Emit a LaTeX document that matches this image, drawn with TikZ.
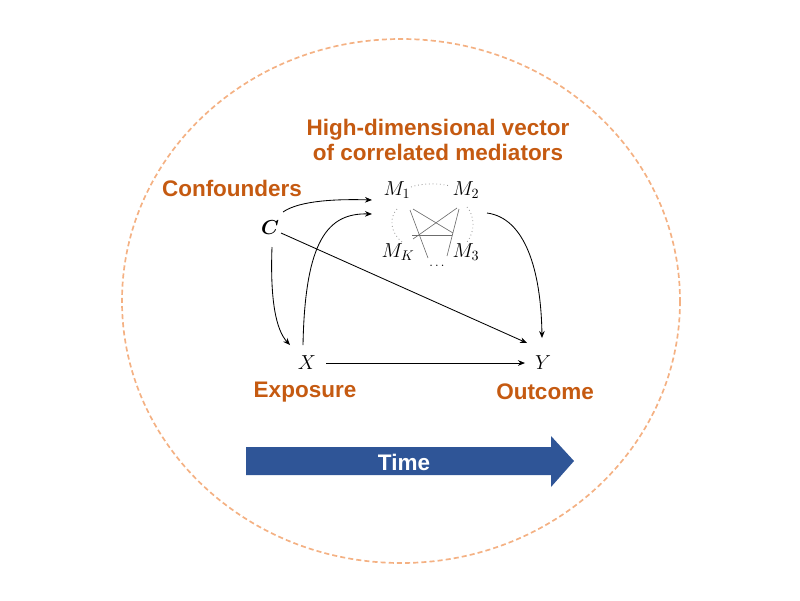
\documentclass[tikz,border=0pt]{standalone}
\usepackage{fontspec}
\setsansfont{Liberation Sans}
\usepackage{amsmath}
\usetikzlibrary{calc,arrows.meta}
\definecolor{orng}{HTML}{C55A11}
\definecolor{lorng}{HTML}{F4B183}
\definecolor{tblue}{HTML}{2F5597}
\begin{document}
\begin{tikzpicture}[x=0.025cm,y=-0.025cm,
 lab/.style={font=\sffamily\bfseries\fontsize{16}{18}\selectfont, text=orng, inner sep=0pt},
 var/.style={font=\fontsize{14.5}{16}\selectfont, inner sep=1pt},
 arr/.style={-{Stealth[length=5pt,width=4pt]}, line width=0.6pt},
 medl/.style={gray!85!black, line width=0.45pt},
 medd/.style={gray!80, line width=0.6pt, dotted}]
\useasboundingbox (0,0) rectangle (800,600);
\draw[lorng, dash pattern=on 3.6pt off 2.2pt, line width=1.2pt] (401,301) ellipse [x radius=279, y radius=262];
% labels
\node[lab, align=center] (title) at (438,140) {High-dimensional vector\\of correlated mediators};
\node[lab] (conf) at (232,188) {Confounders};
\node[lab] (expo) at (305,392) {Exposure};
\node[lab] (outc) at (545,392) {Outcome};
% variables
\node[var] (C) at (270,228) {$\boldsymbol{C}$};
\node[var] (M1) at (397,190) {$M_1$};
\node[var] (M2) at (466,190) {$M_2$};
\node[var] (MK) at (398,252) {$M_K$};
\node[var] (M3) at (466,252) {$M_3$};
\node[var, font=\fontsize{9}{10}\selectfont] (dots) at (437,266) {$\ldots$};
\node[var] (X) at (307,363) {$X$};
\node[var] (Y) at (543,363) {$Y$};
% mediator correlations
\draw[medd] ($(M1)+(14,-3)$) .. controls (422,183) and (440,183) .. ($(M2)+(-16,-4)$);
\draw[medd] ($(M1)+(0,19)$) .. controls (389,218) and (390,232) .. ($(MK)+(4,-10)$);
\draw[medd] ($(M2)+(1,17)$) .. controls (475,216) and (475,232) .. ($(M3)+(1,-10)$);
\draw[medl] ($(M1)+(16,19)$) -- ($(M3)+(-13,-19)$);
\draw[medl] ($(M2)+(-9,18)$) -- ($(MK)+(15,-13)$);
\draw[medl] ($(MK)+(14,-17)$) -- ($(M3)+(-14,-17)$);
\draw[medl] ($(M1)+(13,20)$) -- ($(dots)+(-9,-8)$);
\draw[medl] ($(M2)+(-7,19)$) -- ($(dots)+(10,-10)$);
% causal arrows
\draw[arr] ($(C)+(13,-16)$) .. controls (300,200) and (340,199) .. ($(M1)+(-25,10)$);
\draw[arr] ($(X)+(-4,-18)$) .. controls (305,240) and (328,213) .. ($(M1)+(-25,24)$);
\draw[arr] ($(C)+(2,19)$) .. controls (270,300) and (276,330) .. ($(X)+(-17,-18)$);
\draw[arr] ($(C)+(11,5)$) -- ($(Y)+(-16,-20)$);
\draw[arr] ($(M2)+(21,23)$) .. controls (525,218) and (541,270) .. ($(Y)+(-1,-25)$);
\draw[arr] ($(X)+(19,0)$) -- ($(Y)+(-18,0)$);
% time arrow
\fill[tblue] (246,447) -- (551,447) -- (551,436) -- (574,461) -- (551,487) -- (551,475) -- (246,475) -- cycle;
\node[font=\sffamily\bfseries\fontsize{16}{18}\selectfont, text=white] (time) at (404,462) {Time};
\end{tikzpicture}
\end{document}
